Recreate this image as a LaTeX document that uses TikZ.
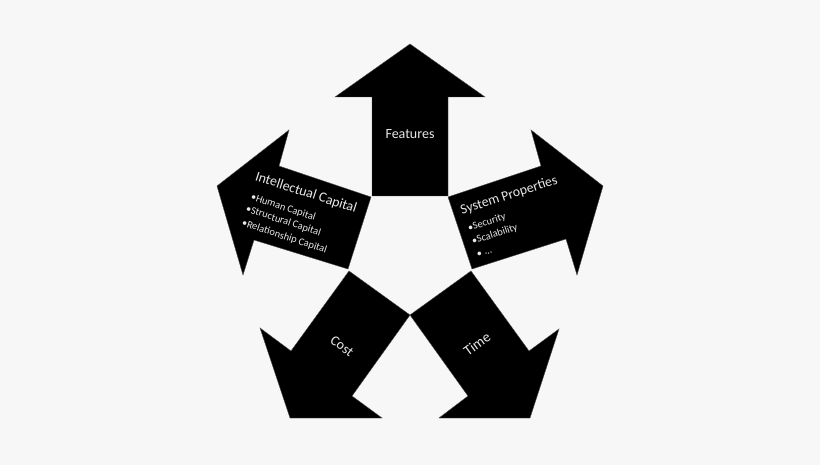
\documentclass[tikz,border=0pt]{standalone}
\usepackage{fontspec}
\setmainfont{Carlito}
\definecolor{bgc}{HTML}{F7F7F7}
\definecolor{txtc}{HTML}{E8E8E8}
\tikzset{
  arrowshape/.style={fill=black,draw=black!70,line width=0.4pt,line join=miter},
  lab/.style={text=txtc,inner sep=0pt,font=\fontsize{14}{16}\selectfont},
  title/.style={text=txtc,inner sep=0pt,font=\fontsize{14}{17}\selectfont},
  item/.style={text=txtc,inner sep=0pt,anchor=west,font=\fontsize{10.4}{12}\selectfont}
}
\begin{document}
\begin{tikzpicture}[x=1pt,y=-1pt]
\useasboundingbox (0,0) rectangle (820,465);
\fill[bgc] (0,0) rectangle (820,465);
\draw[arrowshape] (410,44) -- (485,97) -- (448,97) -- (448,196) -- (372,196) -- (372,97) -- (335,97) -- cycle;
\draw[arrowshape] (217,186) -- (289,130) -- (279,166) -- (371,197) -- (348,269) -- (254,240) -- (243,275) -- cycle;
\draw[arrowshape] (603,186) -- (531,130) -- (541,166) -- (448,197) -- (472,269) -- (566,239) -- (577,275) -- cycle;
\draw[arrowshape] (290,418) -- (382,418) -- (352,396) -- (410,315) -- (349,271) -- (291,351) -- (260,328) -- cycle;
\draw[arrowshape] (530,418) -- (439,418) -- (468,396) -- (410,315) -- (471,271) -- (529,351) -- (559,329) -- cycle;
\node[lab] (features) at (410,134) {Features};
\node[title,rotate=-18] (ic) at (306,193) {Intellectual Capital};
\node[item,rotate=-18] (ic1) at (251,197) {•Human Capital};
\node[item,rotate=-18] (ic2) at (246,209) {•Structural Capital};
\node[item,rotate=-18] (ic3) at (242,223) {•Relationship Capital};
\node[title,rotate=18,font=\fontsize{13.8}{16}\selectfont] (sp) at (509,195.5) {System Properties};
\node[item,rotate=18] (sp1) at (468,229) {•Security};
\node[item,rotate=18] (sp2) at (472,242) {•Scalability};
\node[item,rotate=18] (sp3) at (477,255) {• ...};
\node[lab,rotate=-36,font=\fontsize{14}{16}\selectfont] (cost) at (342,346) {Cost};
\node[lab,rotate=36,font=\fontsize{14.5}{16}\selectfont] (time) at (477,344) {Time};
\end{tikzpicture}
\end{document}
